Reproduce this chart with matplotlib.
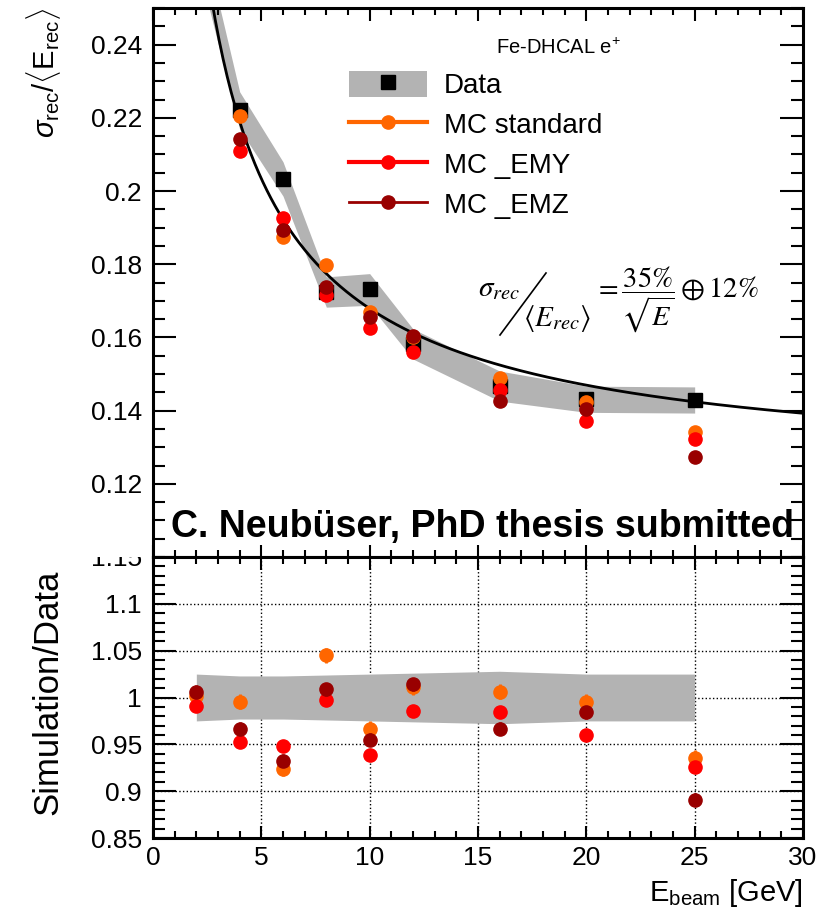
import numpy as np
import matplotlib.pyplot as plt
from matplotlib.ticker import MultipleLocator, FuncFormatter
from matplotlib.patches import Patch, Rectangle
from matplotlib.lines import Line2D

plt.rcParams['font.family'] = ['Liberation Sans', 'DejaVu Sans']
plt.rcParams['mathtext.fontset'] = 'custom'
plt.rcParams['mathtext.rm'] = 'Liberation Sans'
plt.rcParams['mathtext.it'] = 'Liberation Sans:italic'
plt.rcParams['mathtext.bf'] = 'Liberation Sans:bold'

# beam energies [GeV]
energy = [2, 4, 6, 8, 10, 12, 16, 20, 25]

# sigma_rec/<E_rec>
data_res = [0.2706, 0.2220, 0.2033, 0.1724, 0.1731, 0.1582, 0.1467, 0.1431, 0.1429]
data_sys = [0.025, 0.023, 0.023, 0.024, 0.025, 0.026, 0.028, 0.025, 0.025]  # relative
mc_std = [0.2710, 0.2204, 0.1875, 0.1799, 0.1670, 0.1600, 0.1489, 0.1423, 0.1342]
mc_emy = [0.2680, 0.2109, 0.1927, 0.1717, 0.1625, 0.1559, 0.1456, 0.1372, 0.1323]
mc_emz = [0.2720, 0.2141, 0.1894, 0.1739, 0.1655, 0.1603, 0.1426, 0.1404, 0.1274]

# simulation / data
ratio_std = [1.002, 0.9957, 0.924, 1.045, 0.9668, 1.0107, 1.0064, 0.9957, 0.9358]
ratio_emy = [0.9914, 0.9529, 0.9486, 0.9968, 0.939, 0.986, 0.985, 0.9604, 0.926]
ratio_emz = [1.0064, 0.9668, 0.9326, 1.0086, 0.955, 1.014, 0.9668, 0.984, 0.891]
ratio_err_std = [0.008] * 9
ratio_err_emy = [0.004] * 9
ratio_err_emz = [0.007] * 9

# fit: stochastic (+) constant term
fit_a = 0.363
fit_c = 0.1225

c_std = '#ff6600'
c_emy = '#ff0000'
c_emz = '#990000'
c_band = '#b3b3b3'

E = np.array(energy)
res = np.array(data_res)
sys_rel = np.array(data_sys)

fig = plt.figure(figsize=(8.31, 9.15), dpi=100)
ax1 = fig.add_axes([153/831, 1-557/915, 650/831, 549/915])
ax2 = fig.add_axes([153/831, 1-838/915, 650/831, 281/915])


def root_style(ax, ymaj, ymin):
    ax.set_xlim(0, 30)
    ax.xaxis.set_major_locator(MultipleLocator(5))
    ax.xaxis.set_minor_locator(MultipleLocator(1))
    ax.yaxis.set_major_locator(MultipleLocator(ymaj))
    ax.yaxis.set_minor_locator(MultipleLocator(ymin))
    ax.tick_params(which='both', direction='in', top=True, right=True, width=1.5)
    ax.tick_params(axis='y', which='major', length=16.5)
    ax.tick_params(axis='y', which='minor', length=8.5)
    ax.tick_params(axis='x', which='major', length=9)
    ax.tick_params(axis='x', which='minor', length=5)
    ax.tick_params(labelsize=19, pad=8)
    for s in ax.spines.values():
        s.set_linewidth(2.2)
    ax.yaxis.set_major_formatter(FuncFormatter(lambda v, p: '%g' % round(v, 3)))


# ---- top panel ----
ax1.fill_between(E, res * (1 - sys_rel), res * (1 + sys_rel), color=c_band, lw=0, zorder=1)
ef = np.linspace(2.5, 30, 300)
ax1.plot(ef, np.sqrt(fit_a**2 / ef + fit_c**2), color='black', lw=2, zorder=2)
ax1.plot(E, res, 's', color='black', ms=9.5, zorder=3)
ax1.plot(E, mc_std, 'o', color=c_std, ms=9.5, zorder=4)
ax1.plot(E, mc_emy, 'o', color=c_emy, ms=9.5, zorder=5)
ax1.plot(E, mc_emz, 'o', color=c_emz, ms=9.5, zorder=6)

root_style(ax1, 0.02, 0.005)
ax1.set_ylim(0.10, 0.25)
ax1.tick_params(labelbottom=False)
ax1.set_yticks([0.12, 0.14, 0.16, 0.18, 0.20, 0.22, 0.24])

h_data = (Patch(facecolor=c_band, edgecolor='none'),
          Line2D([], [], ls='none', marker='s', color='black', ms=9.5))
h_std = Line2D([], [], color=c_std, lw=3, marker='o', ms=9.5)
h_emy = Line2D([], [], color=c_emy, lw=3, marker='o', ms=9.5)
h_emz = Line2D([], [], color=c_emz, lw=2, marker='o', ms=9.5)
ax1.legend([h_data, h_std, h_emy, h_emz], ['Data', 'MC standard', 'MC _EMY', 'MC _EMZ'],
           loc='upper left', bbox_to_anchor=(0.302, 0.886), frameon=False, fontsize=20,
           handlelength=2.8, handleheight=1.1, handletextpad=0.6, labelspacing=0.4,
           borderpad=0, borderaxespad=0)

ax1.text(0.528, 0.928, 'Fe-DHCAL e$^{+}$', transform=ax1.transAxes, fontsize=14.5,
         ha='left', va='center')
ax1.text(0.027, 0.055, 'C. Neubüser, PhD thesis submitted', transform=ax1.transAxes,
         fontsize=27, fontweight='bold', ha='left', va='center')

# resolution formula
fig.text(478/831, 1-288/915, r'$\sigma_{rec}$', math_fontfamily='stix', fontsize=21,
         ha='left', va='center')
fig.add_artist(Line2D([500/831, 546/831], [1-335/915, 1-273/915], color='black', lw=1.2))
fig.text(557/831, 1-318/915, r'$\langle E_{rec}\rangle$', math_fontfamily='stix', fontsize=21,
         ha='center', va='center')
fig.text(594/831, 1-300/915, r'$=\dfrac{35\%}{\sqrt{E}}\oplus 12\%$', math_fontfamily='stix',
         fontsize=20.5, ha='left', va='center')

# ---- bottom panel ----
ax2.fill_between(E, 1 - sys_rel, 1 + sys_rel, color=c_band, lw=0, zorder=1)
ax2.errorbar(E, ratio_std, yerr=ratio_err_std, fmt='o', color=c_std, ms=9.5, elinewidth=2, zorder=4)
ax2.errorbar(E, ratio_emy, yerr=ratio_err_emy, fmt='o', color=c_emy, ms=9.5, elinewidth=2, zorder=5)
ax2.errorbar(E, ratio_emz, yerr=ratio_err_emz, fmt='o', color=c_emz, ms=9.5, elinewidth=2, zorder=6)
root_style(ax2, 0.05, 0.01)
ax2.set_ylim(0.85, 1.15)
ax2.grid(True, which='major', color='black', ls=':', lw=1)
ax2.set_axisbelow(True)
ax2.tick_params(axis='x', pad=6)

# pad overlap hides the top of the 1.15 label
fig.add_artist(Rectangle((50/831, 1-557/915), 100/831, 20/915, transform=fig.transFigure,
                         facecolor='white', edgecolor='none', zorder=10))

# axis titles
fig.text(44/831, 1-8/915, r'$\sigma_{\rm rec}/\langle {\rm E}_{\rm rec}\rangle$', rotation=90,
         fontsize=21, ha='center', va='top')
fig.text(48/831, 1-692/915, 'Simulation/Data', rotation=90, fontsize=25,
         ha='center', va='center')
fig.text(803/831, 1-893/915, r'E$_{\rm beam}$ [GeV]', fontsize=21, ha='right', va='center')

fig.savefig('out.png', dpi=100)
